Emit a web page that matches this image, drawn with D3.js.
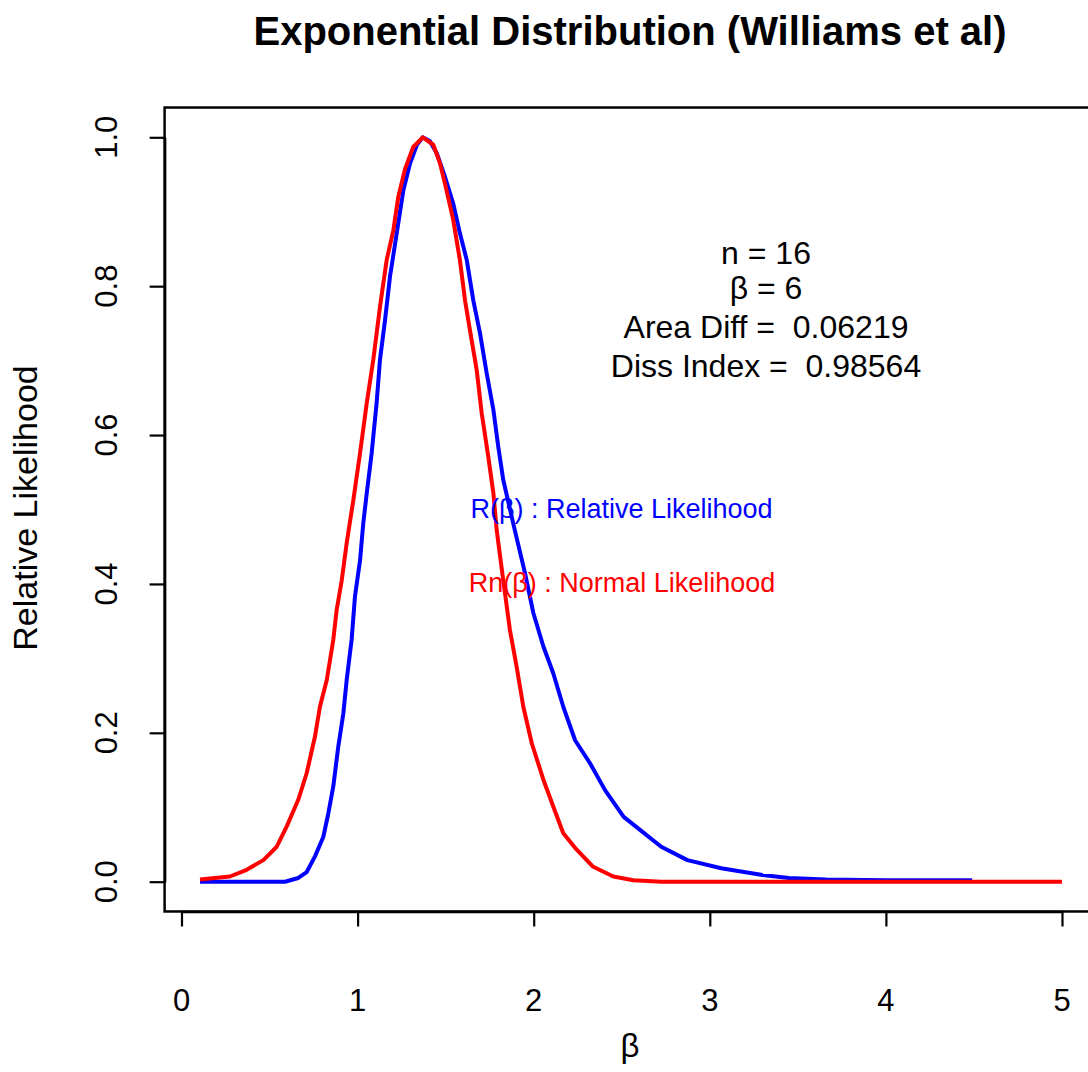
<!DOCTYPE html>
<html>
<head>
<meta charset="utf-8">
<script src="https://cdn.jsdelivr.net/npm/d3@7"></script>
<style>
  html, body { margin: 0; padding: 0; background: #fff; }
  text { font-family: "Liberation Sans", Arial, sans-serif; }
</style>
</head>
<body>
<svg id="chart" width="1088" height="1072"></svg>
<script>
// ---- data ----
const blueX = [0.105, 0.588, 0.663, 0.711, 0.758, 0.805, 0.834, 0.862, 0.890, 0.919, 0.938, 0.966, 0.985, 1.014, 1.032, 1.052, 1.080, 1.108, 1.127, 1.156, 1.184, 1.222, 1.260, 1.298, 1.337, 1.370, 1.410, 1.449, 1.496, 1.543, 1.581, 1.620, 1.657, 1.695, 1.733, 1.771, 1.799, 1.827, 1.884, 1.951, 1.998, 2.055, 2.111, 2.168, 2.235, 2.320, 2.405, 2.511, 2.618, 2.724, 2.873, 3.065, 3.299, 3.448, 3.661, 4.000, 4.490];
const blueY = [0.000, 0.000, 0.005, 0.013, 0.034, 0.060, 0.092, 0.128, 0.181, 0.226, 0.271, 0.325, 0.383, 0.432, 0.481, 0.522, 0.576, 0.643, 0.701, 0.755, 0.813, 0.871, 0.929, 0.965, 0.990, 1.000, 0.995, 0.979, 0.947, 0.911, 0.871, 0.835, 0.781, 0.737, 0.683, 0.634, 0.584, 0.540, 0.481, 0.414, 0.361, 0.316, 0.280, 0.235, 0.190, 0.159, 0.123, 0.087, 0.067, 0.047, 0.029, 0.018, 0.009, 0.005, 0.003, 0.002, 0.002];

const redX = [0.105, 0.275, 0.370, 0.465, 0.541, 0.597, 0.663, 0.711, 0.758, 0.786, 0.825, 0.862, 0.881, 0.910, 0.938, 0.976, 1.014, 1.052, 1.089, 1.127, 1.165, 1.203, 1.231, 1.269, 1.316, 1.370, 1.430, 1.468, 1.496, 1.543, 1.581, 1.610, 1.638, 1.676, 1.705, 1.742, 1.771, 1.790, 1.827, 1.865, 1.903, 1.941, 1.989, 2.055, 2.111, 2.168, 2.244, 2.338, 2.452, 2.566, 2.724, 5.000];
const redY = [0.003, 0.007, 0.016, 0.029, 0.047, 0.074, 0.110, 0.146, 0.195, 0.235, 0.271, 0.325, 0.365, 0.405, 0.455, 0.513, 0.576, 0.643, 0.701, 0.772, 0.835, 0.875, 0.920, 0.957, 0.987, 1.000, 0.990, 0.965, 0.938, 0.889, 0.835, 0.781, 0.741, 0.688, 0.629, 0.571, 0.522, 0.472, 0.405, 0.338, 0.289, 0.235, 0.186, 0.137, 0.101, 0.065, 0.043, 0.020, 0.007, 0.002, 0.000, 0.000];

const xTicks = [0, 1, 2, 3, 4, 5];
const xTickLabels = ["0", "1", "2", "3", "4", "5"];
const yTicks = [0, 0.2, 0.4, 0.6, 0.8, 1.0];
const yTickLabels = ["0.0", "0.2", "0.4", "0.6", "0.8", "1.0"];

const titleText = "Exponential Distribution (Williams et al)";
const xLabel = "\u03B2";
const yLabel = "Relative Likelihood";
const infoLines = ["n = 16", "\u03B2 = 6", "Area Diff =\u00A0 0.06219", "Diss Index =\u00A0 0.98564"];
const blueLabel = "R(\u03B2) : Relative Likelihood";
const redLabel = "Rn(\u03B2) : Normal Likelihood";

// ---- drawing ----
const svg = d3.select("#chart");
svg.append("rect").attr("width", 1088).attr("height", 1072).attr("fill", "#fff");

const x = d3.scaleLinear().domain([0, 5]).range([181.5, 1062]);
const y = d3.scaleLinear().domain([0, 1]).range([881.7, 137.3]);

const xLo = x.invert(164.6), xHi = 5.196;
const yLo = -0.04, yHi = 1.04;

// plot box
svg.append("rect")
  .attr("x", x(xLo)).attr("y", y(yHi))
  .attr("width", x(xHi) - x(xLo)).attr("height", y(yLo) - y(yHi))
  .attr("fill", "none").attr("stroke", "#000").attr("stroke-width", 2.5);

// x axis
const gx = svg.append("g").attr("transform", `translate(0,${y(yLo)})`)
  .call(d3.axisBottom(x).tickValues(xTicks).tickSize(15).tickSizeOuter(0).tickFormat(""));
gx.selectAll("path, line").attr("stroke", "#000").attr("stroke-width", 2.2);
gx.select(".domain").attr("stroke-width", 2.5);

svg.append("g").selectAll("text").data(xTicks).join("text")
  .attr("x", d => x(d)).attr("y", 1011)
  .attr("text-anchor", "middle").attr("font-size", 31).attr("fill", "#000")
  .text((d, i) => xTickLabels[i]);

// y axis
const gy = svg.append("g").attr("transform", `translate(${x(xLo)},0)`)
  .call(d3.axisLeft(y).tickValues(yTicks).tickSize(15).tickSizeOuter(0).tickFormat(""));
gy.selectAll("path, line").attr("stroke", "#000").attr("stroke-width", 2.2);
gy.select(".domain").attr("stroke-width", 2.5);

svg.append("g").selectAll("text").data(yTicks).join("text")
  .attr("transform", d => `translate(117,${y(d)}) rotate(-90)`)
  .attr("text-anchor", "middle").attr("font-size", 31).attr("fill", "#000")
  .text((d, i) => yTickLabels[i]);

// axis titles
svg.append("text").attr("x", 630).attr("y", 1057)
  .attr("text-anchor", "middle").attr("font-size", 33).attr("fill", "#000").text(xLabel);
svg.append("text").attr("transform", "translate(37,508) rotate(-90)")
  .attr("text-anchor", "middle").attr("font-size", 34).attr("fill", "#000").text(yLabel);

// title
svg.append("text").attr("x", 630).attr("y", 45)
  .attr("text-anchor", "middle").attr("font-size", 40).attr("font-weight", "bold")
  .attr("fill", "#000").text(titleText);

// curves
const line = d3.line().x(d => x(d[0])).y(d => y(d[1])).curve(d3.curveLinear);
const blueData = blueX.map((v, i) => [v, blueY[i]]);
const redData = redX.map((v, i) => [v, redY[i]]);

svg.append("path").datum(blueData).attr("d", line)
  .attr("fill", "none").attr("stroke", "#0000FF").attr("stroke-width", 4)
  .attr("stroke-linejoin", "round");
svg.append("path").datum(redData).attr("d", line)
  .attr("fill", "none").attr("stroke", "#FF0000").attr("stroke-width", 4)
  .attr("stroke-linejoin", "round");

// info text
const infoBase = [264, 299, 338, 376.5];
svg.append("g").selectAll("text").data(infoLines).join("text")
  .attr("x", 766).attr("y", (d, i) => infoBase[i])
  .attr("text-anchor", "middle").attr("font-size", 32).attr("fill", "#000")
  .attr("xml:space", "preserve").style("white-space", "pre")
  .text(d => d);

// curve labels
svg.append("text").attr("x", 621.5).attr("y", 518)
  .attr("text-anchor", "middle").attr("font-size", 27).attr("fill", "#0000FF").text(blueLabel);
svg.append("text").attr("x", 622).attr("y", 592)
  .attr("text-anchor", "middle").attr("font-size", 27).attr("fill", "#FF0000").text(redLabel);
</script>
</body>
</html>
